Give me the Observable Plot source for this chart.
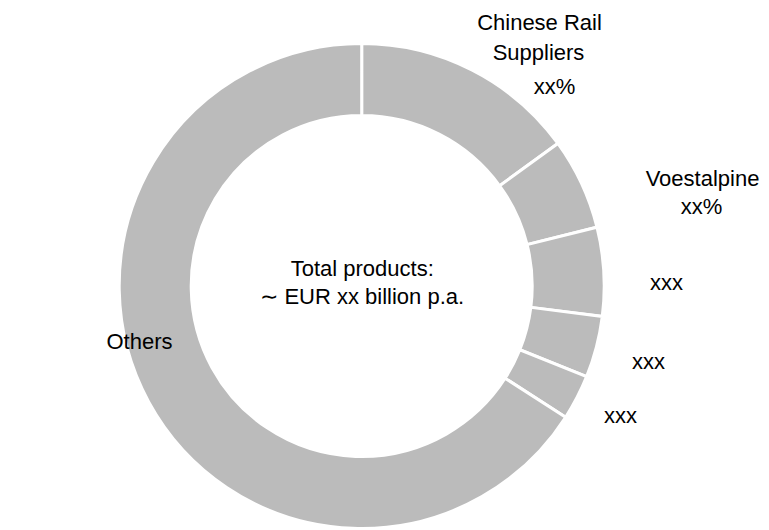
<!DOCTYPE html>
<html><head><meta charset="utf-8">
<script src="https://cdn.jsdelivr.net/npm/d3@7"></script>
<script src="https://cdn.jsdelivr.net/npm/@observablehq/plot@0.6"></script>
<style>
  html,body{margin:0;padding:0;background:#fff;}
  #chart svg{display:block;}
</style>
</head><body><div id="chart"></div>
<script>
// ---- data ----
const segments = ["Chinese Rail Suppliers", "Voestalpine", "xxx (a)", "xxx (b)", "xxx (c)", "Others"];
const shares   = [15.0, 6.1, 5.9, 4.1, 3.0, 65.9];

// ---- labels (text + layout) ----
const labelLines = ["Chinese Rail", "Suppliers", "xx%", "Voestalpine", "xx%", "xxx", "xxx", "xxx", "Others"];
const labelX     = [539, 538, 554, 702, 701, 666, 648, 620, 139];
const labelY     = [22, 52, 86, 178, 206, 282, 361, 415, 341];
const centerLines = ["Total products:", "\u223C EUR xx billion p.a."];
const centerLineY = [268, 296];

// ---- layout ----
const W = 769, H = 530;
const CX = 361.7, CY = 286, R_OUT = 242.5, R_IN = 170.5;
const FONT = "'Liberation Sans', Arial, Helvetica, sans-serif";

const table = segments.map((s, i) => ({segment: s, share: shares[i]}));
const labels = labelLines.map((t, i) => ({text: t, x: labelX[i], y: labelY[i]}));
const centerText = centerLines.map((t, i) => ({text: t, x: CX, y: centerLineY[i]}));

function donut(index, scales) {
  const cx = scales.x(CX), cy = scales.y(CY);
  const k = scales.x(CX + 100) - cx;
  const ro = R_OUT * k / 100, ri = R_IN * k / 100;
  const arcs = d3.pie().sort(null).value(d => d.share)(table);
  const g = d3.create("svg:g").attr("transform", `translate(${cx},${cy})`);
  g.selectAll("path").data(arcs).join("path")
    .attr("d", d3.arc().innerRadius(ri).outerRadius(ro))
    .attr("fill", "#bbbbbb")
    .attr("stroke", "#ffffff")
    .attr("stroke-width", 3)
    .attr("stroke-linejoin", "miter");
  return g.node();
}

const chart = Plot.plot({
  width: W, height: H,
  margin: 0,
  style: {fontFamily: FONT, background: "#fff", overflow: "visible"},
  x: {domain: [0, W], range: [0, W], axis: null},
  y: {domain: [0, H], range: [0, H], axis: null},
  marks: [
    donut,
    Plot.text(labels, {x: "x", y: "y", text: "text", fontSize: 22, fill: "#000", textAnchor: "middle", lineAnchor: "middle"}),
    Plot.text(centerText, {x: "x", y: "y", text: "text", fontSize: 22, fill: "#000", textAnchor: "middle", lineAnchor: "middle"})
  ]
});
document.getElementById("chart").appendChild(chart);
</script>
</body></html>
